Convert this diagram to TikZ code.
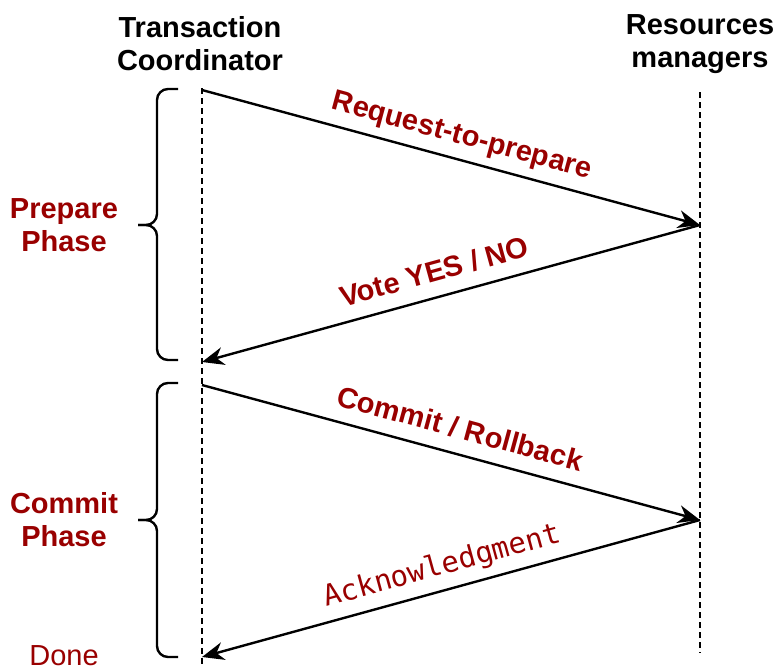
\documentclass[tikz,border=0pt]{standalone}
\usepackage{fontspec}
\setmainfont{Liberation Sans}
\newfontfamily\ackfont{DejaVu Sans Mono}
\usetikzlibrary{arrows.meta}
\definecolor{phasered}{HTML}{990000}
\tikzset{
    lifeline/.style={line width=2.2pt,dash pattern=on 6pt off 4pt},
    msg/.style={line width=2.4pt,-{Stealth[length=22pt,width=18pt,inset=7pt]}},
    msglabel/.style={sloped,above=5pt,text=phasered,text height=21pt,text depth=6pt,font=\bfseries\fontsize{29}{34}\selectfont},
    actor/.style={align=center,font=\bfseries\fontsize{29}{33}\selectfont},
    phase/.style={align=center,text=phasered,font=\bfseries\fontsize{29}{33}\selectfont},
    bracket/.style={line width=2.4pt,rounded corners=11pt}
}
\begin{document}
\begin{tikzpicture}[x=1pt,y=-1pt]
        \useasboundingbox (0,0) rectangle (777,665);
        \node[actor](tc)at(200,44){Transaction\\Coordinator};
        \node[actor](rm)at(700,44){Resources\\managers};
        % lifelines
        \coordinate(tctop)at(202,88);
        \coordinate(tcbot)at(202,665);
        \coordinate(rmtop)at(700,92);
        \coordinate(rmbot)at(700,653);
        \draw[lifeline](tctop)--(tcbot);
        \draw[lifeline](rmtop)--(rmbot);
        % message ends
        \coordinate(t1)at(202,90);
        \coordinate(r1)at(700,225);
        \coordinate(t2)at(202,362);
        \coordinate(t3)at(202,385);
        \coordinate(r2)at(700,520);
        \coordinate(t4)at(202,657);
        \draw[msg](t1)--(r1) node[msglabel,pos=.51]{Request-to-prepare};
        \draw[msg](r1)--(t2) node[msglabel,pos=.52]{Vote YES / NO};
        \draw[msg](t3)--(r2) node[msglabel,pos=.505]{Commit / Rollback};
        \draw[msg](r2)--(t4) node[msglabel,pos=.505,font=\ackfont\fontsize{29}{34}\selectfont]{Acknowledgment};
        % phase brackets
        \draw[bracket](178,89)--(157,89)--(157,225)--(138,225);
        \draw[bracket](138,225)--(157,225)--(157,360)--(178,360);
        \draw[bracket](178,383)--(157,383)--(157,520)--(138,520);
        \draw[bracket](138,520)--(157,520)--(157,657)--(178,657);
        \node[phase](prep)at(64,225){Prepare\\Phase};
        \node[phase](comm)at(64,520){Commit\\Phase};
        \node[anchor=base,text=phasered,font=\fontsize{29}{33}\selectfont](done)at(64,665){Done};
    \end{tikzpicture}
\end{document}
